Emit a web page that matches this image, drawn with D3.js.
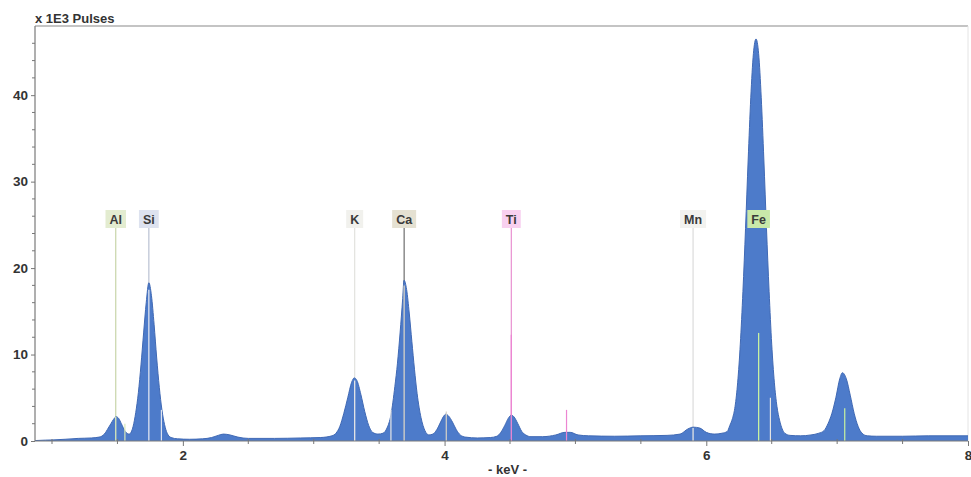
<!DOCTYPE html>
<html><head><meta charset="utf-8">
<script src="https://cdn.jsdelivr.net/npm/d3@7"></script>
<style>
html,body{margin:0;padding:0;background:#fff;}
svg{display:block;font-family:"Liberation Sans",Arial,sans-serif;}
</style></head>
<body>
<svg id="chart" width="971" height="477"></svg>
<script>
// Spectrum: energy (keV) and counts (x 1E3 pulses)
const energyKeV = [0.87,0.95,1.00,1.10,1.20,1.30,1.36,1.40,1.43,1.45,1.47,1.49,1.51,1.53,1.56,1.59,1.62,1.64,1.66,1.68,1.70,1.72,1.74,1.76,1.78,1.80,1.82,1.84,1.86,1.88,1.91,1.96,2.05,2.15,2.22,2.27,2.31,2.36,2.42,2.50,2.70,2.90,3.05,3.14,3.17,3.20,3.23,3.26,3.29,3.31,3.33,3.36,3.39,3.42,3.45,3.49,3.53,3.56,3.59,3.62,3.64,3.66,3.68,3.69,3.71,3.73,3.75,3.77,3.79,3.82,3.85,3.88,3.91,3.94,3.97,3.99,4.01,4.03,4.06,4.09,4.12,4.16,4.25,4.35,4.40,4.43,4.46,4.49,4.51,4.53,4.56,4.59,4.62,4.66,4.75,4.85,4.92,4.96,5.02,5.10,5.30,5.50,5.70,5.80,5.86,5.90,5.95,6.00,6.06,6.12,6.16,6.18,6.20,6.22,6.24,6.26,6.28,6.30,6.32,6.34,6.36,6.38,6.40,6.42,6.44,6.46,6.48,6.50,6.52,6.54,6.56,6.58,6.60,6.64,6.72,6.80,6.86,6.90,6.93,6.96,6.99,7.02,7.04,7.07,7.10,7.13,7.16,7.19,7.23,7.30,7.50,7.70,8.00];
const pulses    = [0.05,0.10,0.12,0.20,0.30,0.35,0.45,0.80,1.50,2.00,2.50,2.80,2.60,2.00,1.10,0.80,1.70,3.30,5.60,8.80,12.5,16.0,18.3,16.8,13.5,9.60,6.20,3.60,1.90,0.90,0.40,0.25,0.20,0.25,0.40,0.65,0.80,0.70,0.45,0.30,0.30,0.35,0.40,0.60,0.90,1.70,3.20,5.00,6.80,7.30,7.00,5.40,3.40,1.80,1.00,0.80,0.90,1.50,3.00,6.30,9.00,12.5,16.5,18.6,17.5,14.8,11.5,8.30,5.50,2.70,1.20,0.70,0.80,1.30,2.20,2.80,3.10,2.90,2.20,1.30,0.70,0.45,0.35,0.40,0.55,1.00,1.80,2.70,3.00,2.80,2.00,1.10,0.70,0.50,0.50,0.70,1.00,1.00,0.70,0.60,0.55,0.60,0.65,0.80,1.40,1.60,1.50,1.00,0.80,0.90,1.10,1.80,2.60,4.00,6.80,11.2,17.3,24.6,32.5,39.7,44.8,46.5,44.8,39.7,32.5,24.6,17.3,11.2,6.80,4.00,2.40,1.40,0.90,0.65,0.60,0.70,0.90,1.20,2.00,3.20,5.00,7.20,7.90,7.20,5.30,3.20,1.70,0.90,0.60,0.55,0.55,0.60,0.60];

// Element identification markers
const elements    = ["Al","Si","K","Ca","Ti","Mn","Fe"];
const alphaKeV    = [1.487,1.740,3.313,3.691,4.510,5.899,6.400];
const alphaMark   = [2.8,17.5,7.0,18.0,12.3,1.5,12.5];
const betaKeV     = [1.557,1.836,3.590,4.013,4.932,6.490,7.058];
const betaMark    = [2.0,3.6,3.6,3.4,3.6,5.0,3.8];
const labelFill   = ["#e3ecd0","#dde2ef","#f1f1ed","#e5e1d2","#f8d0ef","#f2f2ef","#c9e8a9"];
const lineColor   = ["#c8d4a8","#b9c1d3","#e2e2de","#6e6e6e","#e890d0","#dcdcdc","#b8e090"];
const markColor   = ["#d8e8b8","#dfe4f0","#e6e6e6","#d6d2c6","#ec86d2","#e4e4e4","#c8f2a0"];

const xTicksMajor = [2,4,6,8];
const yTicksMajor = [0,10,20,30,40];
const yAxisTitle = "x 1E3 Pulses";
const xAxisTitle = "- keV -";

const svg = d3.select("#chart");
const L = 35, R = 968, T = 26, B = 441;
const x = d3.scaleLinear().domain([0.87, 8]).range([L, R]);
const y = d3.scaleLinear().domain([0, 48]).range([B, T]);

const data = energyKeV.map((e,i)=>({e, c:pulses[i]}));
const ink = "#333";

// frame
svg.append("line").attr("x1",L).attr("x2",R).attr("y1",T).attr("y2",T).attr("stroke","#8a8a8a").attr("stroke-width",1.2);
svg.append("line").attr("x1",R).attr("x2",R).attr("y1",T).attr("y2",B).attr("stroke","#e4e4e4").attr("stroke-width",1);

// label lines (behind spectrum)
const labelY = 219;
elements.forEach((el,i)=>{
  svg.append("line").attr("x1",x(alphaKeV[i])).attr("x2",x(alphaKeV[i]))
    .attr("y1",labelY+9).attr("y2",y(0)).attr("stroke",lineColor[i]).attr("stroke-width",1.2);
});

// spectrum
const area = d3.area().x(d=>x(d.e)).y0(y(0)).y1(d=>y(d.c)).curve(d3.curveMonotoneX);
const line = d3.line().x(d=>x(d.e)).y(d=>y(d.c)).curve(d3.curveMonotoneX);
svg.append("path").datum(data).attr("d",area).attr("fill","#4d7bca");
svg.append("path").datum(data).attr("d",line).attr("fill","none").attr("stroke","#4069b4").attr("stroke-width",1);

// markers on top
elements.forEach((el,i)=>{
  svg.append("line").attr("x1",x(alphaKeV[i])).attr("x2",x(alphaKeV[i]))
    .attr("y1",y(alphaMark[i])).attr("y2",y(0)).attr("stroke",markColor[i]).attr("stroke-width",1.3);
  svg.append("line").attr("x1",x(betaKeV[i])).attr("x2",x(betaKeV[i]))
    .attr("y1",y(betaMark[i])).attr("y2",y(0)).attr("stroke",markColor[i]).attr("stroke-width",1.2);
});

// labels
elements.forEach((el,i)=>{
  const g = svg.append("g");
  const t = g.append("text").attr("x",x(alphaKeV[i])).attr("y",labelY+4.5)
    .attr("text-anchor","middle").attr("font-size",12.5).attr("font-weight","bold")
    .attr("fill","#3a3a3a").text(el);
  const w = t.node().getComputedTextLength();
  g.insert("rect","text").attr("x",x(alphaKeV[i])-w/2-4).attr("y",labelY-9)
    .attr("width",w+8).attr("height",18).attr("fill",labelFill[i]);
});

// axes
const xAxis = d3.axisBottom(x).tickValues(xTicksMajor).tickFormat(d3.format("d")).tickSize(5).tickPadding(4);
const gx = svg.append("g").attr("transform",`translate(0,${B})`).call(xAxis);
const xMinor = d3.range(1,8,0.5).filter(v=>!xTicksMajor.includes(v));
gx.selectAll(".minor").data(xMinor).enter().append("line").attr("class","minor")
  .attr("x1",d=>x(d)).attr("x2",d=>x(d)).attr("y1",-2).attr("y2",3).attr("stroke","#777");
const yAxis = d3.axisLeft(y).tickValues(yTicksMajor).tickFormat(d3.format("d")).tickSize(4).tickPadding(3);
const gy = svg.append("g").attr("transform",`translate(${L},0)`).call(yAxis);
const yMinor = d3.range(2,48,2).filter(v=>!yTicksMajor.includes(v));
gy.selectAll(".minor").data(yMinor).enter().append("line").attr("class","minor")
  .attr("x1",-3).attr("x2",0).attr("y1",d=>y(d)).attr("y2",d=>y(d)).attr("stroke","#777");
[gx,gy].forEach(g=>{
  g.select(".domain").attr("stroke","#7a7a7a").attr("stroke-width",1.2);
  g.selectAll(".tick line").attr("stroke","#777");
  g.selectAll(".tick text").attr("font-size",13.5).attr("font-weight","bold").attr("fill",ink)
   .attr("font-family","'Liberation Sans',Arial,sans-serif");
});
gx.select(".domain").attr("d",`M${L},0H${R}`);
gy.select(".domain").attr("d",`M0,${B}V${T}`);

svg.append("text").attr("x",L).attr("y",23).attr("font-size",13).attr("font-weight","bold").attr("fill",ink).text(yAxisTitle);
svg.append("text").attr("x",(L+R)/2+6).attr("y",474).attr("text-anchor","middle").attr("font-size",13).attr("font-weight","bold").attr("fill",ink).text(xAxisTitle);
</script>
</body></html>
